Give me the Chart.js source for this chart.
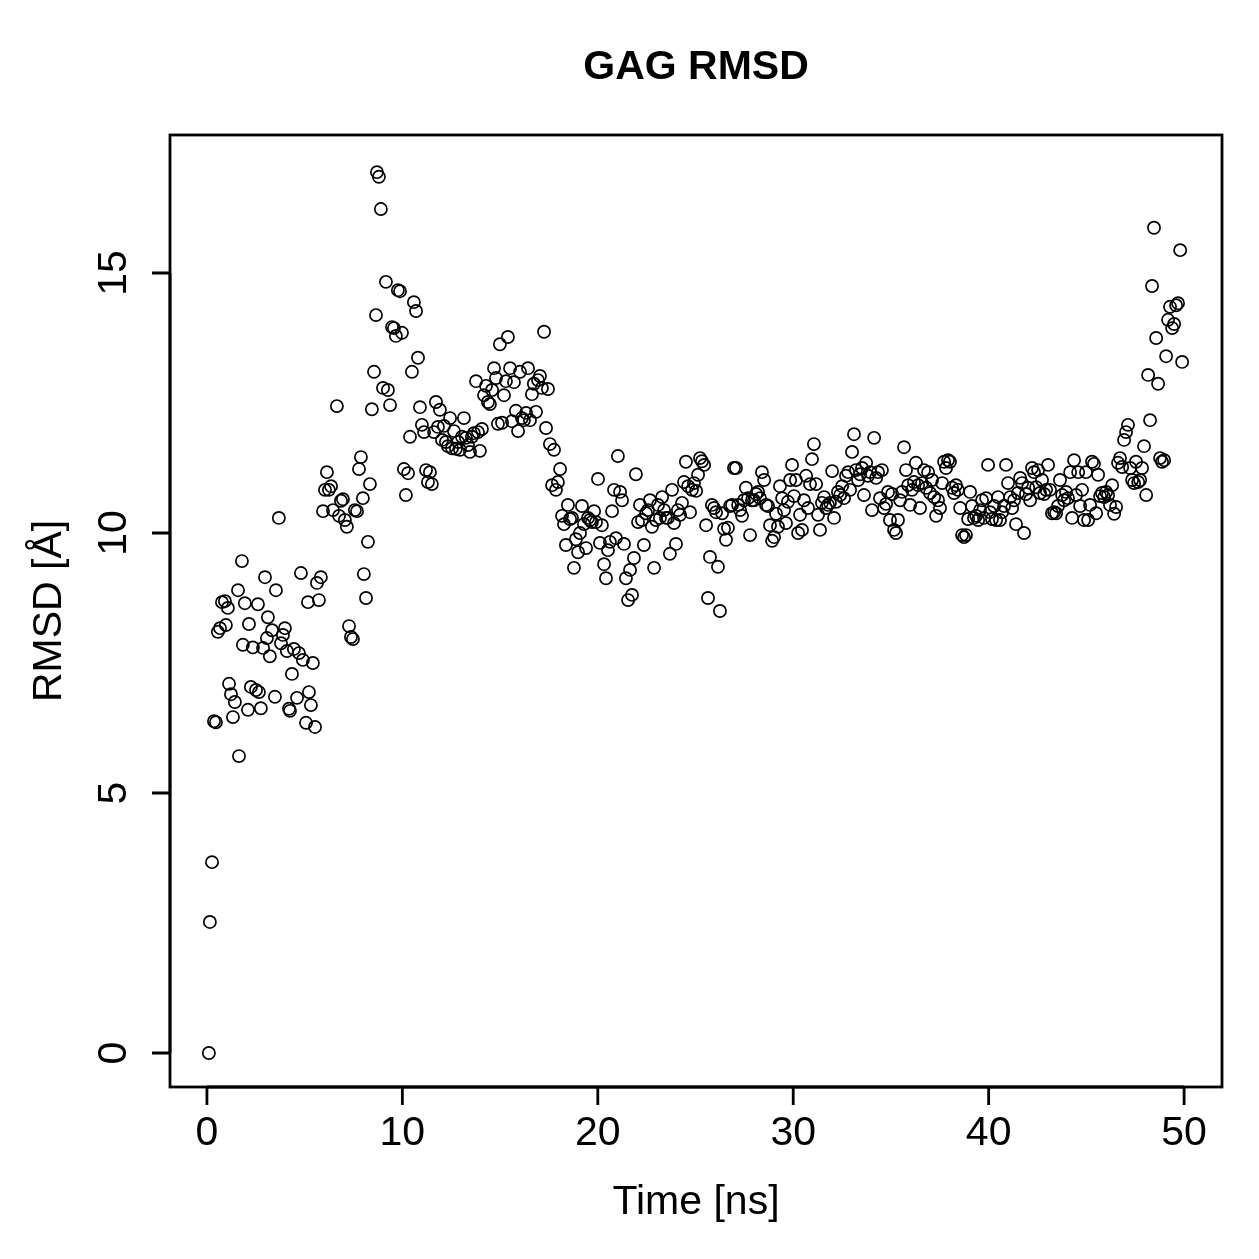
<!DOCTYPE html>
<html>
<head>
<meta charset="utf-8">
<script src="https://cdn.jsdelivr.net/npm/chart.js@4/dist/chart.umd.min.js"></script>
<style>
  html, body { margin: 0; padding: 0; background: #fff; }
  #wrap { width: 1259px; height: 1259px; }
</style>
</head>
<body>
<div id="wrap"><canvas id="myChart" width="1259" height="1259"></canvas></div>
<script>
// ---------- Datos ----------

const tituloGrafica = 'GAG RMSD';
const tituloX = 'Time [ns]';
const tituloY = 'RMSD [Å]';
const ticksX = [0, 10, 20, 30, 40, 50];
const ticksY = [0, 5, 10, 15];

const tiempoNs = [
  // 0 - 10 ns
  0.10, 0.15, 0.26, 0.36, 0.46, 0.56, 0.67, 0.77, 0.92, 0.97,
  1.07, 1.13, 1.23, 1.33, 1.43, 1.59, 1.64, 1.79, 1.84, 1.94,
  2.10, 2.15, 2.25, 2.35, 2.51, 2.61, 2.66, 2.76, 2.87, 2.97,
  3.07, 3.12, 3.22, 3.33, 3.48, 3.53, 3.68, 3.79, 3.89, 3.99,
  4.09, 4.20, 4.25, 4.35, 4.45, 4.61, 4.71, 4.81, 4.91,
  5.07, 5.17, 5.22, 5.32, 5.42, 5.53, 5.63, 5.73, 5.83, 5.94,
  6.04, 6.14, 6.24, 6.35, 6.45, 6.65, 6.76, 6.86, 6.96,
  7.06, 7.16, 7.27, 7.37, 7.47, 7.57, 7.68, 7.78, 7.88, 7.98,
  8.03, 8.14, 8.24, 8.34, 8.44, 8.55, 8.65, 8.70, 8.80, 8.90,
  9.01, 9.16, 9.26, 9.37, 9.47, 9.57, 9.67, 9.77, 9.88, 9.98,
  // 10 - 20 ns
  10.08, 10.18, 10.29, 10.39, 10.49, 10.59, 10.70, 10.80, 10.90, 11.00,
  11.11, 11.21, 11.31, 11.41, 11.51, 11.62, 11.72, 11.82, 11.92, 12.03,
  12.13, 12.23, 12.33, 12.44, 12.54, 12.64, 12.74, 12.85, 12.95, 13.05,
  13.15, 13.25, 13.36, 13.46, 13.56, 13.66, 13.77, 13.87, 13.97, 14.07,
  14.18, 14.28, 14.38, 14.48, 14.59, 14.69, 14.79, 14.89, 14.99, 15.10,
  15.20, 15.30, 15.40, 15.51, 15.61, 15.71, 15.81, 15.92, 16.02, 16.12,
  16.22, 16.33, 16.43, 16.53, 16.63, 16.73, 16.84, 16.94, 17.04, 17.14,
  17.25, 17.35, 17.45, 17.55, 17.66, 17.76, 17.86, 17.96, 18.07, 18.17,
  18.27, 18.37, 18.47, 18.58, 18.68, 18.78, 18.88, 18.99, 19.09, 19.19,
  19.29, 19.40, 19.50, 19.60, 19.70, 19.81, 19.91, 20.01,
  // 20 - 30 ns
  20.11, 20.21, 20.32, 20.42, 20.52, 20.62, 20.73, 20.83, 20.93, 21.03,
  21.14, 21.24, 21.34, 21.44, 21.55, 21.65, 21.75, 21.85, 21.95, 22.06,
  22.16, 22.26, 22.36, 22.47, 22.57, 22.67, 22.77, 22.88, 22.98, 23.08,
  23.18, 23.29, 23.39, 23.49, 23.59, 23.69, 23.80, 23.90, 24.00, 24.10,
  24.21, 24.31, 24.41, 24.51, 24.62, 24.72, 24.82, 24.92, 25.03, 25.13,
  25.23, 25.33, 25.44, 25.54, 25.64, 25.74, 25.84, 25.95, 26.05, 26.15,
  26.25, 26.36, 26.46, 26.56, 26.66, 26.77, 26.87, 26.97, 27.07, 27.18,
  27.28, 27.38, 27.48, 27.58, 27.69, 27.79, 27.89, 27.99, 28.10, 28.20,
  28.30, 28.40, 28.51, 28.61, 28.71, 28.81, 28.92, 29.02, 29.12, 29.22,
  29.32, 29.43, 29.53, 29.63, 29.73, 29.84, 29.94,
  // 30 - 40 ns
  30.04, 30.14, 30.25, 30.35, 30.45, 30.55, 30.66, 30.76, 30.86, 30.96,
  31.06, 31.17, 31.27, 31.37, 31.47, 31.58, 31.68, 31.78, 31.88, 31.99,
  32.09, 32.19, 32.29, 32.40, 32.50, 32.60, 32.70, 32.81, 32.91, 33.01,
  33.11, 33.21, 33.32, 33.42, 33.52, 33.62, 33.73, 33.83, 33.93, 34.03,
  34.14, 34.24, 34.34, 34.44, 34.54, 34.65, 34.75, 34.85, 34.95, 35.06,
  35.16, 35.26, 35.36, 35.47, 35.57, 35.67, 35.77, 35.88, 35.98, 36.08,
  36.18, 36.28, 36.39, 36.49, 36.59, 36.69, 36.80, 36.90, 37.00, 37.10,
  37.21, 37.31, 37.41, 37.51, 37.62, 37.72, 37.82, 37.92, 38.02, 38.13,
  38.23, 38.33, 38.43, 38.54, 38.64, 38.74, 38.84, 38.95, 39.05, 39.15,
  39.25, 39.36, 39.46, 39.56, 39.66, 39.76, 39.87,
  // 40 - 50 ns
  39.97, 40.07, 40.17, 40.28, 40.38, 40.48, 40.58, 40.69, 40.79, 40.89,
  40.99, 41.10, 41.20, 41.30, 41.40, 41.50, 41.61, 41.71, 41.81, 41.91,
  42.02, 42.12, 42.22, 42.32, 42.43, 42.53, 42.63, 42.73, 42.84, 42.94,
  43.04, 43.14, 43.24, 43.35, 43.45, 43.55, 43.65, 43.76, 43.86, 43.96,
  44.06, 44.17, 44.27, 44.37, 44.47, 44.58, 44.68, 44.78, 44.88, 44.98,
  45.09, 45.19, 45.29, 45.39, 45.50, 45.60, 45.70, 45.80, 45.91, 46.01,
  46.11, 46.21, 46.32, 46.42, 46.52, 46.62, 46.72, 46.83, 46.93, 47.03,
  47.13, 47.24, 47.34, 47.44, 47.54, 47.65, 47.75, 47.85, 47.95, 48.06,
  48.16, 48.26, 48.36, 48.46, 48.57, 48.67, 48.77, 48.87, 48.98, 49.08,
  49.18, 49.28, 49.39, 49.49, 49.59, 49.69, 49.80, 49.90
];

const rmsd = [
  // 0 - 10 ns
  0.00, 2.52, 3.67, 6.38, 6.36, 8.10, 8.17, 8.67, 8.69, 8.23,
  8.56, 7.10, 6.90, 6.46, 6.75, 8.90, 5.71, 9.46, 7.85, 8.65,
  6.60, 8.25, 7.04, 7.80, 6.98, 8.63, 6.94, 6.63, 7.79, 9.15,
  7.98, 8.38, 7.63, 8.13, 6.85, 8.90, 10.29, 7.88, 8.04, 8.17,
  7.73, 6.62, 6.58, 7.29, 7.77, 6.83, 7.69, 9.23, 7.56,
  6.35, 8.67, 6.94, 6.69, 7.50, 6.27, 9.04, 8.71, 9.15, 10.42,
  10.83, 11.17, 10.83, 10.90, 10.44, 12.44, 10.33, 10.62, 10.65,
  10.25, 10.12, 8.21, 8.00, 7.96, 10.44, 10.42, 11.23, 11.46, 10.67,
  9.21, 8.75, 9.83, 10.94, 12.38, 13.10, 14.19, 16.94, 16.85, 16.23,
  12.79, 14.83, 12.75, 12.46, 13.96, 13.94, 13.79, 14.67, 14.65, 13.85,
  // 10 - 20 ns
  11.23, 10.73, 11.15, 11.85, 13.10, 14.44, 14.27, 13.37, 12.42, 12.08,
  11.94, 11.21, 10.98, 11.17, 10.94, 11.94, 12.52, 12.04, 12.37, 11.79,
  12.06, 11.75, 11.67, 12.21, 11.63, 11.96, 11.62, 11.75, 11.60, 11.85,
  12.21, 11.83, 11.69, 11.56, 11.85, 11.92, 12.92, 11.94, 11.58, 12.00,
  12.65, 12.83, 12.52, 12.48, 12.75, 13.17, 12.98, 12.10, 13.63, 12.12,
  12.65, 12.92, 13.77, 13.17, 12.15, 12.90, 12.35, 11.96, 13.10, 12.21,
  12.17, 12.31, 13.17, 12.17, 12.67, 12.87, 12.33, 12.94, 13.02, 12.79,
  13.87, 12.02, 12.77, 11.71, 10.92, 11.60, 10.83, 10.98, 11.23, 10.33,
  10.17, 9.77, 10.54, 10.27, 10.29, 9.33, 9.88, 9.63, 10.00, 10.52,
  10.17, 9.71, 10.29, 10.25, 10.21, 10.42, 10.21, 11.04,
  // 20 - 30 ns
  9.81, 10.15, 9.40, 9.13, 9.67, 9.83, 10.42, 10.83, 9.90, 11.48,
  10.79, 10.63, 9.79, 9.13, 8.71, 9.29, 8.81, 9.52, 11.13, 10.21,
  10.54, 10.25, 9.77, 10.38, 10.44, 10.63, 10.12, 9.33, 10.25, 10.54,
  10.29, 10.69, 10.44, 10.29, 10.29, 9.60, 10.83, 10.19, 9.79, 10.44,
  10.35, 10.58, 10.98, 11.37, 10.90, 10.40, 10.83, 10.96, 10.81, 11.12,
  11.44, 11.38, 11.31, 10.15, 8.75, 9.54, 10.54, 10.48, 10.40, 9.35,
  8.50, 10.38, 10.08, 9.87, 10.10, 10.52, 10.54, 11.25, 11.25, 10.54,
  10.44, 10.33, 10.63, 10.87, 10.67, 9.96, 10.63, 10.63, 10.75, 10.79,
  10.67, 11.17, 11.02, 10.54, 10.52, 10.15, 9.85, 9.92, 10.37, 10.12,
  10.90, 10.67, 10.44, 10.19, 10.60, 11.02, 11.31,
  // 30 - 40 ns
  10.71, 11.02, 10.00, 10.35, 10.06, 10.63, 11.10, 10.48, 10.94, 11.42,
  11.71, 10.94, 10.35, 10.06, 10.58, 10.69, 10.48, 10.54, 10.58, 11.19,
  10.29, 10.60, 10.79, 10.73, 10.90, 10.67, 11.10, 11.17, 10.83, 11.56,
  11.90, 11.21, 11.02, 11.13, 11.25, 10.73, 11.35, 11.10, 11.17, 10.44,
  11.83, 11.06, 11.17, 10.67, 11.21, 10.48, 10.56, 10.79, 10.25, 10.75,
  10.06, 10.00, 10.25, 10.63, 10.79, 11.65, 11.21, 10.92, 10.54, 10.83,
  10.98, 11.35, 10.92, 10.48, 10.96, 11.21, 10.87, 11.17, 10.77, 11.02,
  10.69, 10.33, 10.63, 10.48, 10.96, 11.37, 11.25, 11.40, 11.37, 10.87,
  10.77, 10.92, 10.83, 10.48, 9.96, 9.92, 9.96, 10.27, 10.79, 10.52,
  10.29, 10.33, 10.25, 10.44, 10.63, 10.29, 10.67,
  // 40 - 50 ns
  11.31, 10.40, 10.27, 10.52, 10.25, 10.69, 10.25, 10.40, 10.52, 11.31,
  10.96, 10.69, 10.48, 10.63, 10.17, 10.77, 11.06, 10.96, 10.00, 10.75,
  10.87, 10.63, 11.25, 11.17, 10.88, 11.21, 10.77, 11.02, 10.75, 10.83,
  11.31, 10.83, 10.38, 10.40, 10.38, 10.52, 11.02, 10.73, 10.63, 10.79,
  10.67, 11.17, 10.29, 11.40, 10.73, 11.17, 10.52, 10.83, 10.25, 11.17,
  10.25, 10.54, 11.37, 11.33, 10.38, 11.12, 10.71, 10.77, 10.69, 10.79,
  10.73, 10.54, 10.92, 10.37, 10.50, 11.35, 11.44, 11.27, 11.79, 11.94,
  12.08, 11.25, 11.02, 10.96, 11.37, 10.98, 11.02, 11.25, 11.67, 10.73,
  13.04, 12.17, 14.75, 15.87, 13.75, 12.87, 11.44, 11.37, 11.40, 13.40,
  14.10, 14.35, 13.94, 14.02, 14.38, 14.42, 15.44, 13.29
];

// ---------- Ejes estilo R (dibujados a mano) ----------

const fuente = '"Liberation Sans", Arial, Helvetica, sans-serif';

const ejesR = {
  id: 'ejesR',
  afterDraw(chart) {
    const ctx = chart.ctx;
    const area = chart.chartArea;
    const sx = chart.scales.x;
    const sy = chart.scales.y;

    ctx.save();
    ctx.strokeStyle = '#000';
    ctx.fillStyle = '#000';
    ctx.lineWidth = 2.8;
    ctx.lineCap = 'butt';

    // caja
    ctx.strokeRect(area.left, area.top, area.right - area.left, area.bottom - area.top);

    // eje X
    const x0 = sx.getPixelForValue(ticksX[0]);
    const x1 = sx.getPixelForValue(ticksX[ticksX.length - 1]);
    ctx.beginPath();
    ctx.moveTo(x0, area.bottom);
    ctx.lineTo(x1, area.bottom);
    ticksX.forEach(t => {
      const px = sx.getPixelForValue(t);
      ctx.moveTo(px, area.bottom);
      ctx.lineTo(px, area.bottom + 18);
    });
    ctx.stroke();

    ctx.font = '41px ' + fuente;
    ctx.textAlign = 'center';
    ctx.textBaseline = 'middle';
    ticksX.forEach(t => {
      ctx.fillText(String(t), sx.getPixelForValue(t), area.bottom + 47);
    });

    // eje Y
    const y0 = sy.getPixelForValue(ticksY[0]);
    const y1 = sy.getPixelForValue(ticksY[ticksY.length - 1]);
    ctx.beginPath();
    ctx.moveTo(area.left, y0);
    ctx.lineTo(area.left, y1);
    ticksY.forEach(t => {
      const py = sy.getPixelForValue(t);
      ctx.moveTo(area.left, py);
      ctx.lineTo(area.left - 18, py);
    });
    ctx.stroke();

    ticksY.forEach(t => {
      ctx.save();
      ctx.translate(area.left - 55, sy.getPixelForValue(t));
      ctx.rotate(-Math.PI / 2);
      ctx.fillText(String(t), 0, 0);
      ctx.restore();
    });

    // títulos
    const cx = (area.left + area.right) / 2;
    const cy = (area.top + area.bottom) / 2;
    ctx.fillText(tituloX, cx, area.bottom + 116);

    ctx.save();
    ctx.translate(area.left - 120, cy);
    ctx.rotate(-Math.PI / 2);
    ctx.fillText(tituloY, 0, 0);
    ctx.restore();

    ctx.font = 'bold 41px ' + fuente;
    ctx.fillText(tituloGrafica, cx, 68);

    ctx.restore();
  }
};

// ---------- Gráfica ----------

const puntos = tiempoNs.map((t, i) => ({ x: t, y: rmsd[i] }));

const grafica = new Chart(document.getElementById('myChart').getContext('2d'), {
  type: 'scatter',
  data: {
    datasets: [{
      data: puntos,
      pointRadius: 6.1,
      pointHoverRadius: 6.1,
      pointBorderWidth: 1.7,
      pointBackgroundColor: 'rgba(0,0,0,0)',
      pointBorderColor: '#000',
      showLine: false
    }]
  },
  options: {
    responsive: false,
    devicePixelRatio: 1,
    animation: false,
    layout: {
      padding: { left: 170, top: 135, right: 37, bottom: 172 }
    },
    scales: {
      x: { type: 'linear', min: -1.89, max: 51.94, display: false },
      y: { type: 'linear', min: -0.654, max: 17.654, display: false }
    },
    plugins: {
      legend: { display: false },
      tooltip: { enabled: false },
      title: { display: false }
    }
  },
  plugins: [ejesR]
});
</script>
</body>
</html>
